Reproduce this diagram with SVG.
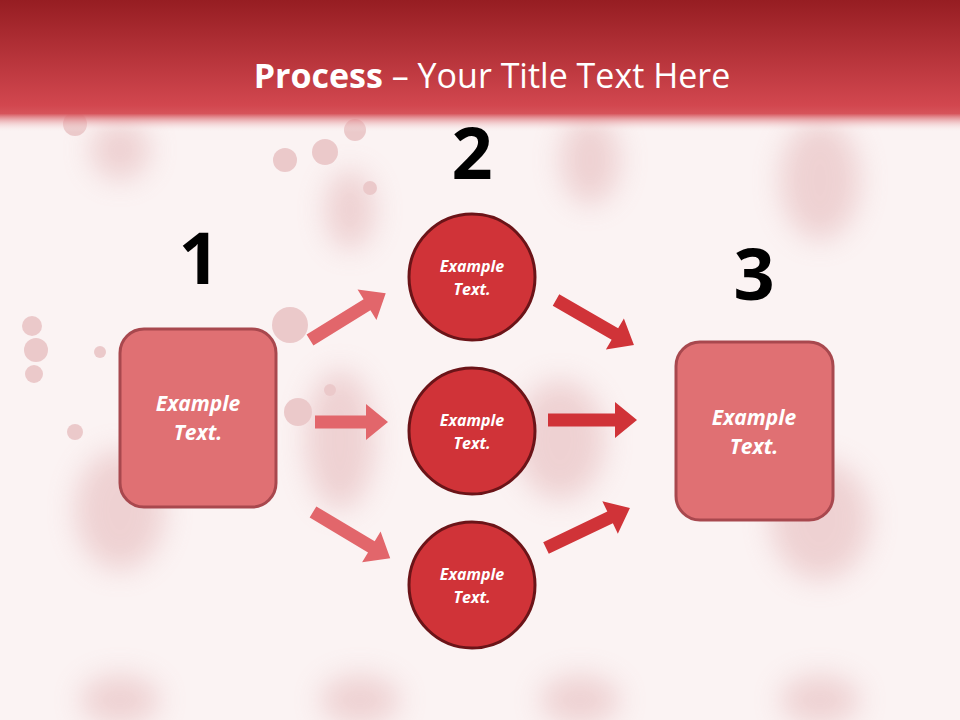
<svg xmlns="http://www.w3.org/2000/svg" width="960" height="720" viewBox="0 0 960 720">
<defs>
<linearGradient id="hdr" x1="0" y1="0" x2="0" y2="1">
<stop offset="0" stop-color="#961d22"/>
<stop offset="0.8" stop-color="#d2474f"/>
<stop offset="0.86" stop-color="#d6535a"/>
<stop offset="1" stop-color="#faf2f2" stop-opacity="0"/>
</linearGradient>
<filter id="blur" x="-50%" y="-50%" width="200%" height="200%"><feGaussianBlur stdDeviation="14"/></filter>
<style>
.num{font-family:"Open Sans","DejaVu Sans",sans-serif;font-weight:bold;font-size:72px;fill:#000;text-anchor:middle}
.box{fill:#e07073;stroke:#a8484e;stroke-width:3}
.circ{fill:#d03338;stroke:#6b1418;stroke-width:3}
.bt{font-family:"Open Sans","Liberation Sans",sans-serif;font-weight:bold;font-style:italic;fill:#fff;text-anchor:middle}
.al{fill:#e2666b}
.ar{fill:#d03338}
.spl{fill:#dca0a3}
</style>
</defs>
<rect width="960" height="720" fill="#fbf3f3"/>
<g id="splatter" opacity="0.5">
<g filter="url(#blur)" opacity="0.8">
<ellipse class="spl" cx="120" cy="510" rx="45" ry="60"/>
<ellipse class="spl" cx="120" cy="150" rx="30" ry="30"/>
<ellipse class="spl" cx="350" cy="210" rx="25" ry="40"/>
<ellipse class="spl" cx="340" cy="440" rx="35" ry="70"/>
<ellipse class="spl" cx="590" cy="160" rx="30" ry="45"/>
<ellipse class="spl" cx="820" cy="180" rx="40" ry="60"/>
<ellipse class="spl" cx="560" cy="440" rx="45" ry="60"/>
<ellipse class="spl" cx="820" cy="520" rx="50" ry="60"/>
<ellipse class="spl" cx="120" cy="700" rx="40" ry="25"/>
<ellipse class="spl" cx="360" cy="700" rx="40" ry="25"/>
<ellipse class="spl" cx="580" cy="700" rx="40" ry="25"/>
<ellipse class="spl" cx="820" cy="700" rx="40" ry="25"/>
</g>
<circle class="spl" cx="290" cy="325" r="18"/>
<circle class="spl" cx="298" cy="412" r="14"/>
<circle class="spl" cx="285" cy="160" r="12"/>
<circle class="spl" cx="325" cy="152" r="13"/>
<circle class="spl" cx="355" cy="130" r="11"/>
<circle class="spl" cx="32" cy="326" r="10"/>
<circle class="spl" cx="36" cy="350" r="12"/>
<circle class="spl" cx="34" cy="374" r="9"/>
<circle class="spl" cx="75" cy="124" r="12"/>
<circle class="spl" cx="100" cy="352" r="6"/>
<circle class="spl" cx="370" cy="188" r="7"/>
<circle class="spl" cx="330" cy="390" r="6"/>
<circle class="spl" cx="75" cy="432" r="8"/>
</g>
<rect id="header" x="0" y="0" width="960" height="132" fill="url(#hdr)"/>
<text id="title" x="492" y="88" font-family="'Open Sans','Liberation Sans',sans-serif" font-size="34" fill="#fff" text-anchor="middle"><tspan font-weight="bold">Process</tspan> – Your Title Text Here</text>

<g id="connectors">
<path class="al" transform="translate(310,340) rotate(-31.7)" d="M0,-6.5 L67,-6.5 L67,-18 L89,0 L67,18 L67,6.5 L0,6.5 Z"/>
<path class="al" transform="translate(315,422)" d="M0,-6.5 L51,-6.5 L51,-18 L73,0 L51,18 L51,6.5 L0,6.5 Z"/>
<path class="al" transform="translate(313,512) rotate(30.9)" d="M0,-6.5 L68,-6.5 L68,-18 L90,0 L68,18 L68,6.5 L0,6.5 Z"/>
<path class="ar" transform="translate(556,300) rotate(30)" d="M0,-6.5 L68,-6.5 L68,-18 L90,0 L68,18 L68,6.5 L0,6.5 Z"/>
<path class="ar" transform="translate(548,420)" d="M0,-6.5 L67,-6.5 L67,-18 L89,0 L67,18 L67,6.5 L0,6.5 Z"/>
<path class="ar" transform="translate(546,548) rotate(-25.5)" d="M0,-6.5 L71,-6.5 L71,-18 L93,0 L71,18 L71,6.5 L0,6.5 Z"/>
</g>

<g id="step1">
<text class="num" x="199" y="284">1</text>
<rect class="box" x="120" y="329" width="156" height="178" rx="24"/>
<text class="bt" x="198" y="411" font-size="21">Example</text>
<text class="bt" x="198" y="440" font-size="21">Text.</text>
</g>
<g id="step2">
<text class="num" x="472" y="179">2</text>
</g>
<g id="circle1">
<circle class="circ" cx="472" cy="277" r="63"/>
<text class="bt" x="472" y="272" font-size="16">Example</text>
<text class="bt" x="472" y="295" font-size="16">Text.</text>
</g>
<g id="circle2">
<circle class="circ" cx="472" cy="431" r="63"/>
<text class="bt" x="472" y="426" font-size="16">Example</text>
<text class="bt" x="472" y="449" font-size="16">Text.</text>
</g>
<g id="circle3">
<circle class="circ" cx="472" cy="585" r="63"/>
<text class="bt" x="472" y="580" font-size="16">Example</text>
<text class="bt" x="472" y="603" font-size="16">Text.</text>
</g>
<g id="step3">
<text class="num" x="754" y="300">3</text>
<rect class="box" x="676" y="342" width="157" height="178" rx="24"/>
<text class="bt" x="754" y="425" font-size="21">Example</text>
<text class="bt" x="754" y="454" font-size="21">Text.</text>
</g>
</svg>
